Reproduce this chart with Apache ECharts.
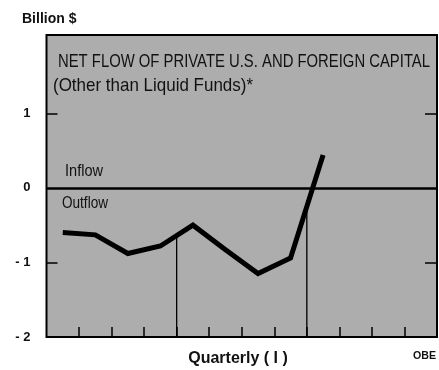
<!DOCTYPE html>
<html>
<head>
<meta charset="utf-8">
<script src="https://cdn.jsdelivr.net/npm/echarts@6/dist/echarts.min.js"></script>
<style>
html,body{margin:0;padding:0;background:#fff;}
#chart{width:439px;height:370px;}
</style>
</head>
<body>
<div id="chart"></div>
<script>
// ---- data ----
const quarters = ['Q1','Q2','Q3','Q4','Q1','Q2','Q3','Q4','Q1'];
const netFlow = [-0.60, -0.63, -0.88, -0.78, -0.50, -0.83, -1.15, -0.94, 0.44];
const quarterSlots = 12;              // 3 years of quarters on the axis
const yearBoundaries = [4, 8];        // quarter index where a new year starts
const yTickValues = [-2, -1, 0, 1];
const yTickLabels = ['- 2', '- 1', '0', '1'];
const titleLine1 = 'NET FLOW OF PRIVATE U.S. AND FOREIGN CAPITAL';
const titleLine2 = '(Other than Liquid Funds)*';

// ---- helpers ----
const ctx = document.createElement('canvas').getContext('2d');
function widthOf(text, font) { ctx.font = font; return ctx.measureText(text).width; }
function squeezed(text, size, x, y, targetW, weight) {
  const fam = '"Liberation Sans", Arial, sans-serif';
  const font = (weight || 'normal') + ' ' + size + 'px ' + fam;
  const sx = targetW / widthOf(text, font);
  return {
    type: 'text', x: x, y: y, scaleX: sx, scaleY: 1, originX: 0, originY: 0,
    style: { text: text, fill: '#111', font: font, textAlign: 'left', textVerticalAlign: 'middle' },
    z: 50
  };
}

const points = netFlow.map((v, i) => [i + 0.5, v]);
function valueAt(x) {
  for (let i = 0; i < points.length - 1; i++) {
    const a = points[i], b = points[i + 1];
    if (x >= a[0] && x <= b[0]) return a[1] + (b[1] - a[1]) * (x - a[0]) / (b[0] - a[0]);
  }
  return 0;
}

const dividerSeries = yearBoundaries.map(q => ({
  type: 'line', symbol: 'none', silent: true, z: 2,
  lineStyle: { color: '#000', width: 1.3 },
  data: [[q, -2], [q, valueAt(q)]]
}));

const chart = echarts.init(document.getElementById('chart'), null, { renderer: 'canvas' });
chart.setOption({
  animation: false,
  backgroundColor: '#fff',
  grid: {
    left: 46.5, right: 2, top: 35, bottom: 33,
    show: true, backgroundColor: '#adadad', borderColor: '#000', borderWidth: 2
  },
  xAxis: {
    type: 'value', min: 0, max: quarterSlots, interval: 1, position: 'bottom',
    axisLine: { show: false, onZero: false },
    axisTick: {
      show: true, inside: true, length: 10,
      customValues: Array.from({ length: quarterSlots - 1 }, (_, i) => i + 1),
      lineStyle: { color: '#000', width: 1.5 }
    },
    axisLabel: { show: false },
    splitLine: { show: false }
  },
  yAxis: [{
    type: 'value', min: -2, max: 2.05, interval: 1, position: 'left',
    axisLine: { show: false, onZero: false },
    axisTick: { show: true, inside: true, length: 11, customValues: [-1, 1],
      lineStyle: { color: '#000', width: 1.5 } },
    axisLabel: {
      show: true, margin: 16, customValues: yTickValues,
      color: '#111', fontFamily: '"Liberation Sans", Arial, sans-serif',
      fontWeight: 'bold', fontSize: 13,
      formatter: v => { const k = yTickValues.indexOf(Math.round(v)); return k >= 0 ? yTickLabels[k] : ''; }
    },
    splitLine: { show: false }
  }, {
    type: 'value', min: -2, max: 2.05, interval: 1, position: 'right',
    axisLine: { show: false, onZero: false },
    axisTick: { show: true, inside: true, length: 12, customValues: [-1, 1],
      lineStyle: { color: '#000', width: 1.5 } },
    axisLabel: { show: false },
    splitLine: { show: false }
  }],
  series: [
    ...dividerSeries,
    {
      type: 'line', name: 'Net flow', data: points, symbol: 'none', z: 5,
      lineStyle: { color: '#000', width: 5, cap: 'butt', join: 'miter' },
      markLine: {
        silent: true, symbol: 'none', z: 4,
        label: { show: false },
        lineStyle: { color: '#000', width: 2.5, type: 'solid' },
        data: [{ yAxis: 0 }]
      }
    }
  ],
  graphic: [
    { type: 'text', x: 22, y: 19, z: 50,
      style: { text: 'Billion $', fill: '#111', font: 'bold 14px "Liberation Sans", Arial, sans-serif',
        textAlign: 'left', textVerticalAlign: 'middle' } },
    squeezed(titleLine1, 18, 58, 62, 372),
    squeezed(titleLine2, 19, 53, 86, 200),
    squeezed('Inflow', 16, 65, 172, 38),
    squeezed('Outflow', 16, 62, 204, 46),
    { type: 'text', x: 238, y: 359, z: 50,
      style: { text: 'Quarterly ( I )', fill: '#111', font: 'bold 16px "Liberation Sans", Arial, sans-serif',
        textAlign: 'center', textVerticalAlign: 'middle' } },
    squeezed('OBE', 11, 413, 356, 23, 'bold')
  ]
});
</script>
</body>
</html>
